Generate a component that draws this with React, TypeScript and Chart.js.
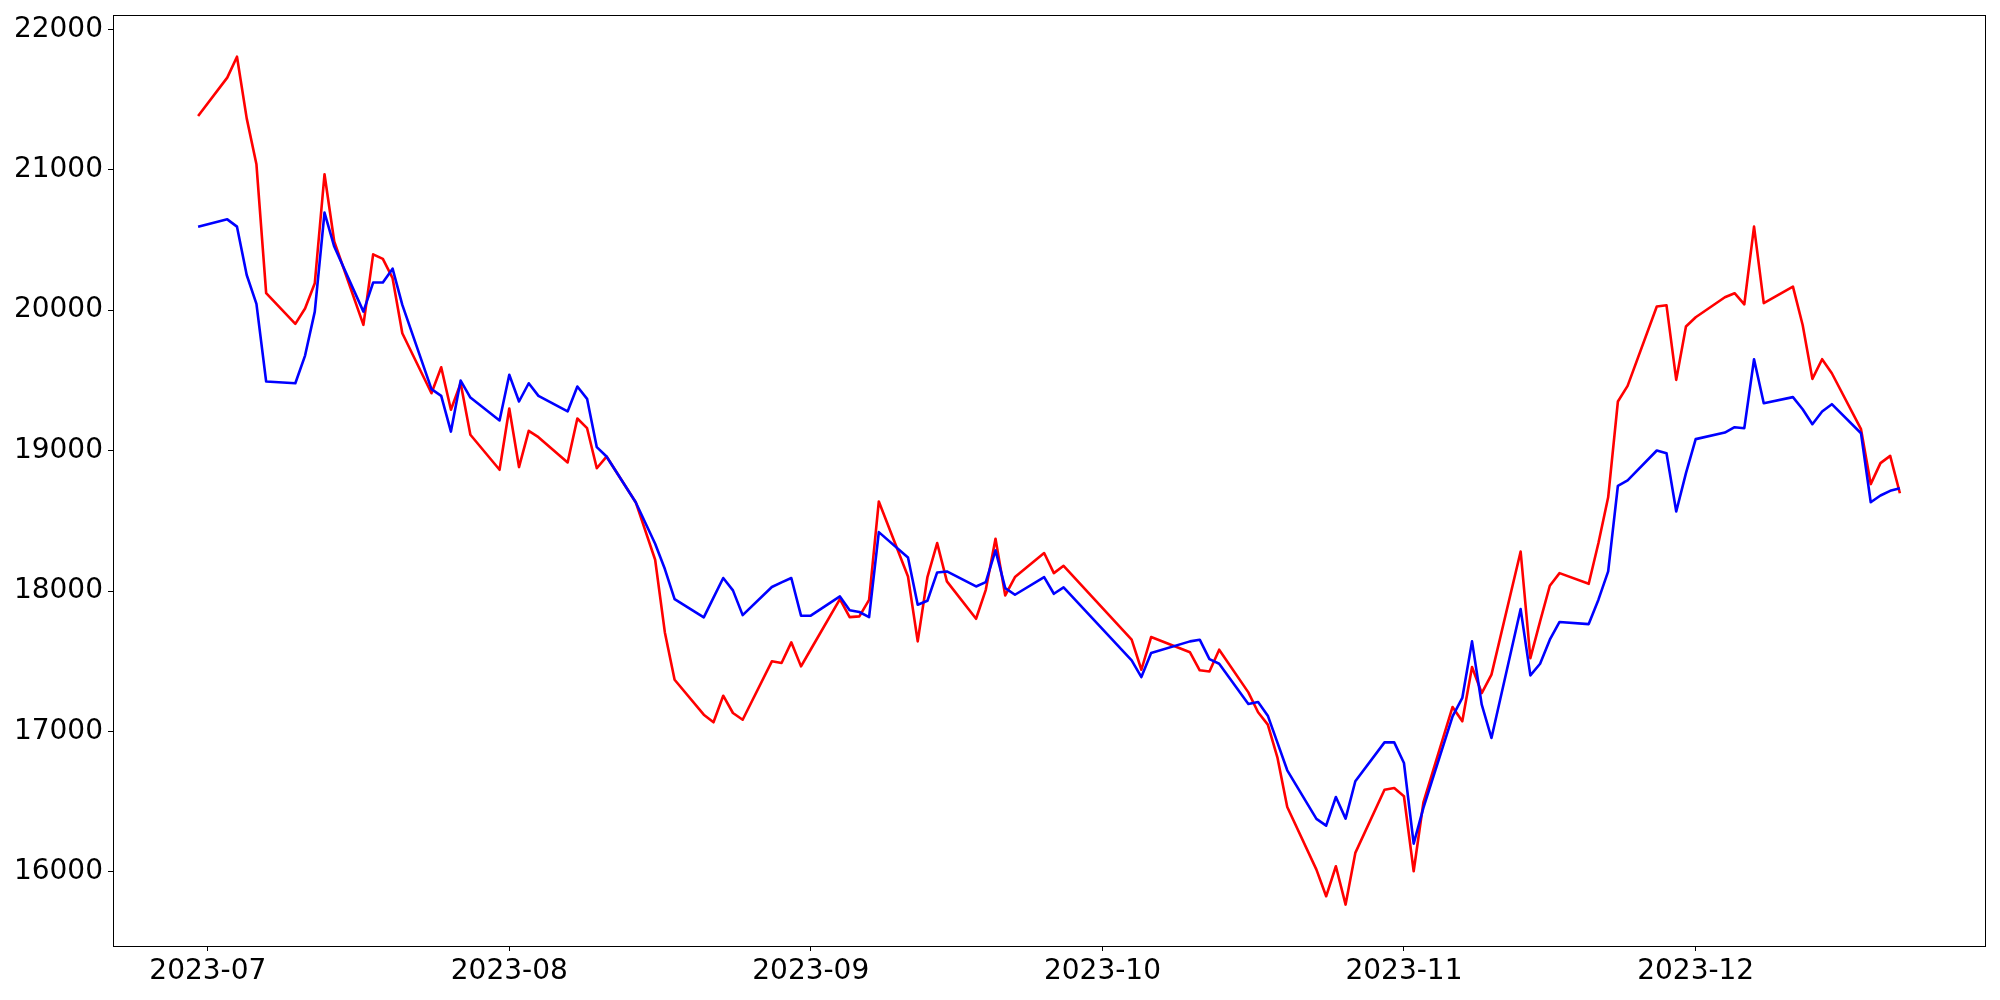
import React, { useEffect, useRef } from "react";
import { Chart, registerables } from "chart.js";

Chart.register(...registerables);

const dates = [
  "2023-06-30",
  "2023-07-03", "2023-07-04", "2023-07-05", "2023-07-06", "2023-07-07",
  "2023-07-10", "2023-07-11", "2023-07-12", "2023-07-13", "2023-07-14",
  "2023-07-17", "2023-07-18", "2023-07-19", "2023-07-20", "2023-07-21",
  "2023-07-24", "2023-07-25", "2023-07-26", "2023-07-27", "2023-07-28",
  "2023-07-31", "2023-08-01", "2023-08-02", "2023-08-03", "2023-08-04",
  "2023-08-07", "2023-08-08", "2023-08-09", "2023-08-10", "2023-08-11",
  "2023-08-14", "2023-08-16", "2023-08-17", "2023-08-18",
  "2023-08-21", "2023-08-22", "2023-08-23", "2023-08-24", "2023-08-25",
  "2023-08-28", "2023-08-29", "2023-08-30", "2023-08-31", "2023-09-01",
  "2023-09-04", "2023-09-05", "2023-09-06", "2023-09-07", "2023-09-08",
  "2023-09-11", "2023-09-12", "2023-09-13", "2023-09-14", "2023-09-15",
  "2023-09-18", "2023-09-19", "2023-09-20", "2023-09-21", "2023-09-22",
  "2023-09-25", "2023-09-26", "2023-09-27",
  "2023-10-04", "2023-10-05", "2023-10-06",
  "2023-10-10", "2023-10-11", "2023-10-12", "2023-10-13",
  "2023-10-16", "2023-10-17", "2023-10-18", "2023-10-19", "2023-10-20",
  "2023-10-23", "2023-10-24", "2023-10-25", "2023-10-26", "2023-10-27",
  "2023-10-30", "2023-10-31", "2023-11-01", "2023-11-02", "2023-11-03",
  "2023-11-06", "2023-11-07", "2023-11-08", "2023-11-09", "2023-11-10",
  "2023-11-13", "2023-11-14", "2023-11-15", "2023-11-16", "2023-11-17",
  "2023-11-20", "2023-11-21", "2023-11-22", "2023-11-23", "2023-11-24",
  "2023-11-27", "2023-11-28", "2023-11-29", "2023-11-30", "2023-12-01",
  "2023-12-04", "2023-12-05", "2023-12-06", "2023-12-07", "2023-12-08",
  "2023-12-11", "2023-12-12", "2023-12-13", "2023-12-14", "2023-12-15",
  "2023-12-18", "2023-12-19", "2023-12-20", "2023-12-21", "2023-12-22",
];

const redSeries = [
  21383,
  21656, 21805, 21366, 21039, 20121,
  19903, 20012, 20192, 20968, 20489,
  19896, 20398, 20365, 20228, 19836,
  19409, 19594, 19291, 19480, 19113,
  18864, 19300, 18883, 19141, 19096,
  18916, 19229, 19160, 18875, 18958,
  18633, 18223, 17706, 17369,
  17120, 17066, 17255, 17132, 17084,
  17500, 17488, 17635, 17464, 17584,
  17943, 17815, 17820, 17938, 18638,
  18104, 17642, 18100, 18342, 18069,
  17803, 18009, 18373, 17969, 18100,
  18271, 18128, 18180,
  17654, 17440, 17673,
  17564, 17436, 17428, 17583,
  17279, 17137, 17049, 16812, 16463,
  16017, 15827, 16041, 15768, 16136,
  16586, 16598, 16539, 16005, 16495,
  17175, 17073, 17459, 17274, 17405,
  18282, 17523, 17784, 18038, 18128,
  18052, 18342, 18668, 19350, 19461,
  20026, 20035, 19504, 19884, 19950,
  20092, 20121, 20042, 20595, 20050,
  20168, 19895, 19511, 19651, 19551,
  19153, 18762, 18911, 18963, 18697,
];

const blueSeries = [
  20595,
  20647, 20595, 20251, 20045, 19492,
  19480, 19677, 19990, 20695, 20453,
  19990, 20197, 20197, 20296, 20038,
  19438, 19390, 19136, 19499, 19378,
  19215, 19540, 19350, 19480, 19390,
  19279, 19457, 19369, 19025, 18958,
  18633, 18337, 18157, 17943,
  17813, 17953, 18093, 18005, 17829,
  18029, 18062, 18093, 17825, 17825,
  17962, 17863, 17851, 17815, 18420,
  18240, 17903, 17931, 18133, 18140,
  18033, 18064, 18290, 18021, 17974,
  18100, 17981, 18026,
  17507, 17388, 17559,
  17642, 17654, 17516, 17483,
  17196, 17210, 17113, 16919, 16724,
  16378, 16330, 16534, 16380, 16646,
  16923, 16923, 16776, 16202, 16456,
  17108, 17239, 17642, 17191, 16954,
  17872, 17400, 17483, 17654, 17780,
  17765, 17939, 18140, 18750, 18788,
  19001, 18982, 18567, 18840, 19082,
  19129, 19167, 19160, 19651, 19338,
  19381, 19295, 19188, 19279, 19331,
  19124, 18633, 18681, 18714, 18733,
];

const monthTickDates = ["2023-07-01", "2023-08-01", "2023-09-01", "2023-10-01", "2023-11-01", "2023-12-01"];
const monthTickLabels = ["2023-07", "2023-08", "2023-09", "2023-10", "2023-11", "2023-12"];
const yTickValues = [16000, 17000, 18000, 19000, 20000, 21000, 22000];

const Y_MIN = 15473;
const Y_MAX = 22102;

const toMs = (s: string) => Date.parse(s + "T00:00:00Z");

const framePlugin = {
  id: "frameBox",
  afterDraw(chart: any) {
    const { ctx, chartArea: a } = chart;
    ctx.save();
    ctx.strokeStyle = "#000000";
    ctx.lineWidth = 1;
    ctx.strokeRect(Math.round(a.left) + 0.5, Math.round(a.top) + 0.5, Math.round(a.right - a.left), Math.round(a.bottom - a.top));
    ctx.restore();
  },
};

export default function App() {
  const ref = useRef<HTMLCanvasElement | null>(null);

  useEffect(() => {
    if (!ref.current) return;
    const xs = dates.map(toMs);
    const span = xs[xs.length - 1] - xs[0];
    const font = { family: "DejaVu Sans", size: 28 };

    const chart = new Chart(ref.current, {
      type: "line",
      data: {
        datasets: [
          {
            label: "blue",
            data: xs.map((x, i) => ({ x, y: blueSeries[i] })),
            borderColor: "#0000ff",
            backgroundColor: "#0000ff",
            borderWidth: 2.6,
            pointRadius: 0,
            tension: 0,
            fill: false,
            borderJoinStyle: "round",
          },
          {
            label: "red",
            data: xs.map((x, i) => ({ x, y: redSeries[i] })),
            borderColor: "#ff0000",
            backgroundColor: "#ff0000",
            borderWidth: 2.6,
            pointRadius: 0,
            tension: 0,
            fill: false,
            borderJoinStyle: "round",
          },
        ],
      },
      options: {
        animation: false,
        responsive: false,
        maintainAspectRatio: false,
        layout: { padding: { left: 0, top: 15, right: 15, bottom: 0 } },
        plugins: { legend: { display: false }, tooltip: { enabled: false } },
        scales: {
          x: {
            type: "linear",
            min: xs[0] - 0.05 * span,
            max: xs[xs.length - 1] + 0.05 * span,
            afterBuildTicks: (s: any) => {
              s.ticks = monthTickDates.map((d) => ({ value: toMs(d) }));
            },
            afterFit: (s: any) => {
              s.height = 54;
              s.paddingLeft = 0;
              s.paddingRight = 0;
            },
            ticks: {
              autoSkip: false,
              maxRotation: 0,
              minRotation: 0,
              color: "#000000",
              font,
              padding: 4,
              callback: (_v: any, i: number) => monthTickLabels[i],
            },
            grid: { display: true, drawOnChartArea: false, drawTicks: true, tickLength: 5, color: "#000000", lineWidth: 1 },
            border: { display: true, color: "#000000", width: 1 },
          },
          y: {
            type: "linear",
            min: Y_MIN,
            max: Y_MAX,
            afterBuildTicks: (s: any) => {
              s.ticks = yTickValues.map((v) => ({ value: v }));
            },
            afterFit: (s: any) => {
              s.width = 113;
              s.paddingTop = 0;
              s.paddingBottom = 0;
            },
            ticks: {
              color: "#000000",
              font,
              padding: 5,
              callback: (v: any) => String(v),
            },
            grid: { display: true, drawOnChartArea: false, drawTicks: true, tickLength: 5, color: "#000000", lineWidth: 1 },
            border: { display: true, color: "#000000", width: 1 },
          },
        },
      },
      plugins: [framePlugin],
    } as any);

    return () => chart.destroy();
  }, []);

  return (
    <div style={{ position: "absolute", left: 0, top: 0, width: 2000, height: 1000, background: "#ffffff" }}>
      <canvas ref={ref} width={2000} height={1000} style={{ display: "block", width: 2000, height: 1000 }} />
    </div>
  );
}
